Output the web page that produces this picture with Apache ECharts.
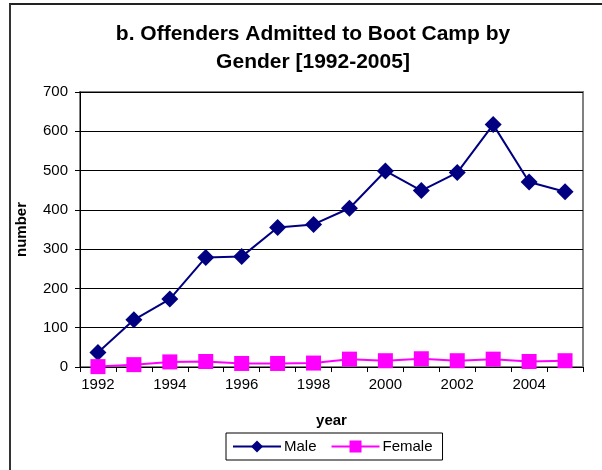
<!DOCTYPE html>
<html>
<head>
<meta charset="utf-8">
<script src="https://cdn.jsdelivr.net/npm/echarts@6/dist/echarts.min.js"></script>
<style>
  html, body { margin: 0; padding: 0; background: #fff; }
  #chart { width: 602px; height: 470px; }
</style>
</head>
<body>
<div id="chart"></div>
<script>
// data
const years = ['1992', '1993', '1994', '1995', '1996', '1997', '1998',
  '1999', '2000', '2001', '2002', '2003', '2004', '2005'];
const maleList = [37, 120, 173, 279, 281, 355, 363, 404, 499, 449, 495, 617, 471, 446];
const femaleList = [1, 6, 13, 14, 9, 9, 10, 20, 16, 21, 16, 20, 14, 16];
const yTicks = [0, 100, 200, 300, 400, 500, 600, 700];

const FONT = 'Liberation Sans, Arial, sans-serif';

const chart = echarts.init(document.getElementById('chart'));
chart.setOption({
  animation: false,
  backgroundColor: '#fff',
  textStyle: { fontFamily: FONT, color: '#000' },
  title: {
    text: 'b. Offenders Admitted to Boot Camp by\nGender [1992-2005]',
    left: 308,
    top: 15,
    textAlign: 'center',
    textStyle: { fontFamily: FONT, fontSize: 21, fontWeight: 'bold', color: '#000', lineHeight: 28 }
  },
  graphic: [
    { type: 'line', shape: { x1: 9, y1: 4, x2: 602, y2: 4 }, style: { stroke: '#222', lineWidth: 2 } },
    { type: 'line', shape: { x1: 10, y1: 4, x2: 10, y2: 470 }, style: { stroke: '#333', lineWidth: 2 } }
  ],
  legend: {
    data: ['Male', 'Female'],
    left: 226,
    top: 433,
    itemWidth: 48,
    itemHeight: 15,
    itemGap: 14,
    padding: [6, 10, 6, 6],
    borderColor: '#000',
    borderWidth: 1,
    textStyle: { fontFamily: FONT, fontSize: 15, color: '#000', padding: [0, 0, 0, -2] }
  },
  grid: { left: 80, right: 19, top: 92, bottom: 103, show: true, borderColor: '#808080', borderWidth: 2 },
  xAxis: {
    type: 'category',
    data: years,
    boundaryGap: true,
    name: 'year',
    nameLocation: 'middle',
    nameGap: 46,
    nameTextStyle: { fontFamily: FONT, fontSize: 15, fontWeight: 'bold', color: '#000' },
    axisLine: { lineStyle: { color: '#000', width: 1 } },
    axisTick: { show: true, interval: 0, length: 5, lineStyle: { color: '#000' } },
    axisLabel: { interval: 1, fontFamily: FONT, fontSize: 15, color: '#000', margin: 10 },
    splitLine: { show: false }
  },
  yAxis: {
    type: 'value',
    min: 0,
    max: yTicks[yTicks.length - 1],
    interval: 100,
    name: 'number',
    nameLocation: 'middle',
    nameGap: 51,
    nameRotate: 90,
    nameTextStyle: { fontFamily: FONT, fontSize: 15, fontWeight: 'bold', color: '#000' },
    axisLine: { show: true, lineStyle: { color: '#000', width: 1 } },
    axisTick: { show: true, length: 5, lineStyle: { color: '#000' } },
    axisLabel: { fontFamily: FONT, fontSize: 15, color: '#000', margin: 12 },
    splitLine: { show: true, lineStyle: { color: '#000', width: 1 } }
  },
  series: [
    {
      name: 'Male',
      type: 'line',
      data: maleList,
      symbol: 'diamond',
      symbolSize: 17,
      color: '#000080',
      lineStyle: { color: '#000080', width: 2 },
      itemStyle: { color: '#000080' },
      z: 3
    },
    {
      name: 'Female',
      type: 'line',
      data: femaleList,
      symbol: 'rect',
      symbolSize: 15,
      color: '#ff00ff',
      lineStyle: { color: '#ff00ff', width: 2 },
      itemStyle: { color: '#ff00ff' },
      z: 4
    }
  ]
});
</script>
</body>
</html>
